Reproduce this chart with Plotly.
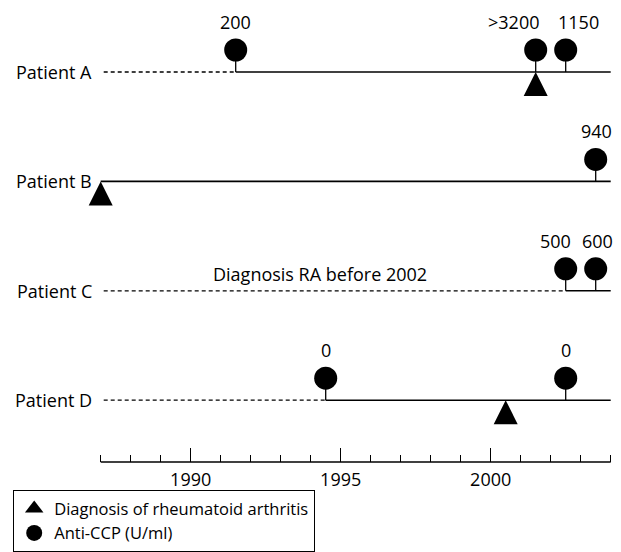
import plotly.graph_objects as go

# ---------------- data ----------------
patients = ["Patient A", "Patient B", "Patient C", "Patient D"]
solid_from = [1991.5, 1987.0, 2002.5, 1994.5]      # line is dashed before this year
ccp_patient = [0, 0, 0, 1, 2, 2, 3, 3]
ccp_year = [1991.5, 2001.5, 2002.5, 2003.5, 2002.5, 2003.5, 1994.5, 2002.5]
ccp_value = ["200", ">3200", "1150", "940", "500", "600", "0", "0"]
dx_patient = [0, 1, 3]
dx_year = [2001.5, 1987.0, 2000.5]
axis_start, axis_end = 1987, 2004
major_years = [1990, 1995, 2000]
minor_years = list(range(1987, 2005))
note_text = "Diagnosis RA before 2002"
legend_names = ["Diagnosis of rheumatoid arthritis", "Anti-CCP (U/ml)"]

# ---------------- layout constants (pixels) ----------------
W, H = 621, 552
X0_PX, PX_PER_YEAR = 100.7, 30.0
ROW0, ROW_GAP = 72.0, 109.4
AXIS_Y = 462.0
CIRCLE_RISE = 22
LABEL_RISE = 50
label_xshift = [0, -22, 13, 1, -10, 2, 0, 0]
FONT = "Open Sans"
INK = "black"

row_y = [ROW0 + i * ROW_GAP for i in range(len(patients))]

fig = go.Figure()

# dashed part of each timeline
dx_, dy_ = [], []
for i, s in enumerate(solid_from):
    if s > axis_start:
        dx_ += [axis_start + 0.1, s, None]
        dy_ += [row_y[i], row_y[i], None]
fig.add_trace(go.Scatter(x=dx_, y=dy_, mode="lines", showlegend=False,
                         line=dict(color=INK, width=1.3, dash="4px,3px"), hoverinfo="skip"))

# solid part
sx, sy = [], []
for i, s in enumerate(solid_from):
    sx += [s, axis_end, None]
    sy += [row_y[i], row_y[i], None]
fig.add_trace(go.Scatter(x=sx, y=sy, mode="lines", showlegend=False,
                         line=dict(color=INK, width=1.6), hoverinfo="skip"))

# stems
stx, sty = [], []
for p, yr in zip(ccp_patient, ccp_year):
    stx += [yr, yr, None]
    sty += [row_y[p], row_y[p] - CIRCLE_RISE, None]
fig.add_trace(go.Scatter(x=stx, y=sty, mode="lines", showlegend=False,
                         line=dict(color=INK, width=1.3), hoverinfo="skip"))

# anti-CCP circles
fig.add_trace(go.Scatter(
    x=ccp_year, y=[row_y[p] - CIRCLE_RISE for p in ccp_patient],
    mode="markers", showlegend=False, cliponaxis=False,
    marker=dict(symbol="circle", size=23, color=INK, line=dict(width=0))))

# diagnosis triangles (apex on the timeline)
fig.add_trace(go.Scatter(
    x=dx_year, y=[row_y[p] for p in dx_patient],
    mode="markers", showlegend=False, cliponaxis=False,
    marker=dict(symbol="arrow-up", size=24, color=INK, line=dict(width=0))))

# legend-only entries
fig.add_trace(go.Scatter(x=[None], y=[None], mode="markers", name=legend_names[0],
                         marker=dict(symbol="triangle-up", size=16, color=INK)))
fig.add_trace(go.Scatter(x=[None], y=[None], mode="markers", name=legend_names[1],
                         marker=dict(symbol="circle", size=16, color=INK)))

annotations = []
for p, yr, v, sh in zip(ccp_patient, ccp_year, ccp_value, label_xshift):
    annotations.append(dict(x=yr, y=row_y[p] - LABEL_RISE, xref="x", yref="y", text=v,
                            showarrow=False, xshift=sh, font=dict(size=18, color=INK, family=FONT)))
for i, name in enumerate(patients):
    annotations.append(dict(x=axis_start, y=row_y[i], xref="x", yref="y", text=name,
                            showarrow=False, xanchor="right", xshift=-7,
                            font=dict(size=18, color=INK, family=FONT)))
annotations.append(dict(x=320 / W, y=row_y[2] - 17, xref="paper", yref="y", text=note_text,
                        showarrow=False, font=dict(size=18, color=INK, family=FONT)))

x_lo = axis_start - X0_PX / PX_PER_YEAR
x_hi = axis_start + (W - X0_PX) / PX_PER_YEAR

fig.update_layout(
    width=W, height=H, margin=dict(l=0, r=0, t=0, b=0),
    paper_bgcolor="white", plot_bgcolor="white",
    font=dict(family=FONT, color=INK),
    annotations=annotations,
    shapes=[dict(type="line", xref="x", yref="y", x0=axis_start, x1=axis_end,
                 y0=AXIS_Y, y1=AXIS_Y, line=dict(color=INK, width=1.3))],
    xaxis=dict(range=[x_lo, x_hi], domain=[0, 1], anchor="free", position=1 - AXIS_Y / H,
               showgrid=False, zeroline=False, showline=False,
               tickmode="array", tickvals=major_years, ticktext=[str(y) for y in major_years],
               ticks="inside", ticklen=14, tickwidth=1.3, tickcolor=INK,
               ticklabelstandoff=5,
               tickfont=dict(size=18, family=FONT, color=INK),
               minor=dict(tickmode="array", tickvals=minor_years, ticks="inside",
                          ticklen=7, tickwidth=1.3, tickcolor=INK, showgrid=False)),
    yaxis=dict(range=[H, 0], domain=[0, 1], visible=False),
    showlegend=True,
    legend=dict(x=13 / W, y=0, xanchor="left", yanchor="bottom",
                bgcolor="white", bordercolor=INK, borderwidth=1.2,
                font=dict(size=16.5, family=FONT, color=INK),
                itemsizing="trace", tracegroupgap=0),
)

fig.write_html("out.html", config={"displayModeBar": False},
               post_script="document.body.style.margin='0';")
